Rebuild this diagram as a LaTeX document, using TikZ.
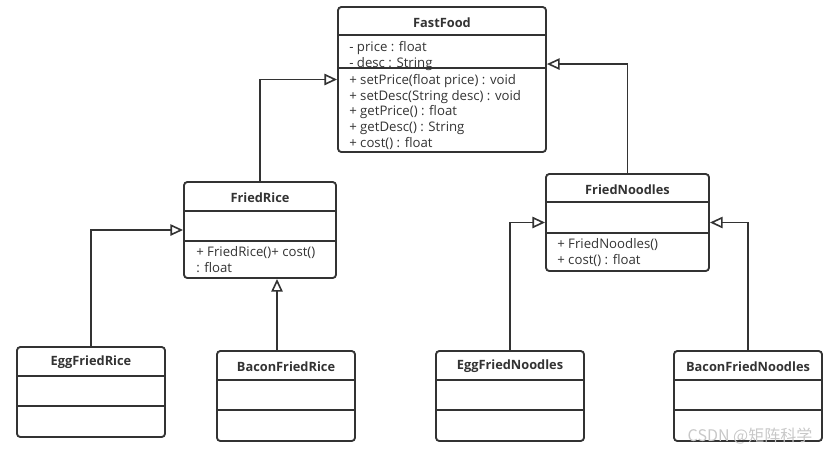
\documentclass[tikz,border=0pt]{standalone}
\usepackage{fontspec}
\setmainfont{Open Sans}
\newfontfamily\cjkfont{Noto Sans CJK SC}
\usetikzlibrary{arrows.meta}
\definecolor{umlline}{RGB}{51,51,51}
\definecolor{markgray}{RGB}{200,200,200}
\tikzset{
  umlbox/.style={draw=umlline, line width=1.4pt, rounded corners=2.5pt, inner sep=0pt},
  umltitle/.style={font=\fontsize{9.6}{12}\selectfont\bfseries, text=umlline, inner sep=0pt},
  umlmember/.style={font=\fontsize{9.9}{11.8}\selectfont, text=umlline, inner sep=0pt, anchor=north west, align=left},
  umldiv/.style={draw=umlline, line width=1.4pt},
  inherit/.style={draw=umlline, line width=1.4pt, -{Triangle[open, length=9.5pt, width=8.5pt, line width=1.2pt]}},
}
% yscale=-1 turns yshift round: positive goes down
\newcommand{\compart}[2]{\draw[umldiv] ([yshift=#2]#1.north west) -- ([yshift=#2]#1.north east);}

\begin{document}
\begin{tikzpicture}[x=0.75pt,y=0.75pt,yscale=-1]
\useasboundingbox (0,0) rectangle (834,455);

%Shape: Class FastFood
\node[umlbox, minimum width=156pt, minimum height=108.75pt] (ff) at (442,79.5) {};
\compart{ff}{21.75pt}
\compart{ff}{46.5pt}
%Shape: Class FriedRice
\node[umlbox, minimum width=114pt, minimum height=72pt] (fr) at (260,230) {};
\compart{fr}{22.5pt}
\compart{fr}{45pt}
%Shape: Class FriedNoodles
\node[umlbox, minimum width=122.25pt, minimum height=72.75pt] (fn) at (627.5,222.5) {};
\compart{fn}{21.75pt}
\compart{fn}{45pt}
%Shape: Class EggFriedRice
\node[umlbox, minimum width=111pt, minimum height=67.5pt] (efr) at (91,392) {};
\compart{efr}{22.5pt}
\compart{efr}{45pt}
%Shape: Class BaconFriedRice
\node[umlbox, minimum width=103.5pt, minimum height=67.5pt] (bfr) at (286,396) {};
\compart{bfr}{22.5pt}
\compart{bfr}{45pt}
%Shape: Class EggFriedNoodles
\node[umlbox, minimum width=111pt, minimum height=67.5pt] (efn) at (510,396) {};
\compart{efn}{22.5pt}
\compart{efn}{45pt}
%Shape: Class BaconFriedNoodles
\node[umlbox, minimum width=111pt, minimum height=67.5pt] (bfn) at (748,396) {};
\compart{bfn}{22.5pt}
\compart{bfn}{45pt}

% Text Node
\node[umltitle] (fftitle) at ([yshift=12.3pt]ff.north) {FastFood};
\node[umlmember] (ffattr) at (349,41) {- price : float\\- desc : String};
\node[umlmember] (ffops) at (349,74) {+ setPrice(float price) : void\\+ setDesc(String desc) : void\\+ getPrice() : float\\+ getDesc() : String\\+ cost() : float};
% Text Node
\node[umltitle] (frtitle) at ([yshift=12.3pt]fr.north) {FriedRice};
\node[umlmember] (frops) at (196,246) {+ FriedRice()+ cost()\\: float};
% Text Node
\node[umltitle] (fntitle) at ([yshift=12.6pt]fn.north) {FriedNoodles};
\node[umlmember] (fnops) at (557,238) {+ FriedNoodles()\\+ cost() : float};
% Text Node
\node[umltitle] (efrtitle) at ([yshift=12.3pt]efr.north) {EggFriedRice};
\node[umltitle] (bfrtitle) at ([yshift=12.3pt]bfr.north) {BaconFriedRice};
\node[umltitle] (efntitle) at ([yshift=12.3pt]efn.north) {EggFriedNoodles};
\node[umltitle] (bfntitle) at ([yshift=12.3pt]bfn.north) {BaconFriedNoodles};

%Straight Lines
\coordinate (fnjoin) at ([yshift=-11.6pt]ff.east);
\coordinate (bfrtop) at ([xshift=-6.75pt]bfr.north);
\draw[inherit] (fr.north) |- (ff.west);
\draw[inherit] (fn.north) |- (fnjoin);
\draw[inherit] (efr.north) |- (fr.west);
\draw[inherit] (bfrtop) -- (bfrtop |- fr.south);
\draw[inherit] (efn.north) |- (fn.west);
\draw[inherit] (bfn.north) |- (fn.east);

% Text Node
\node[text=markgray, font=\fontsize{12}{14}\cjkfont, inner sep=0pt] (mark) at (750,436) {CSDN @矩阵科学};

\end{tikzpicture}
\end{document}
